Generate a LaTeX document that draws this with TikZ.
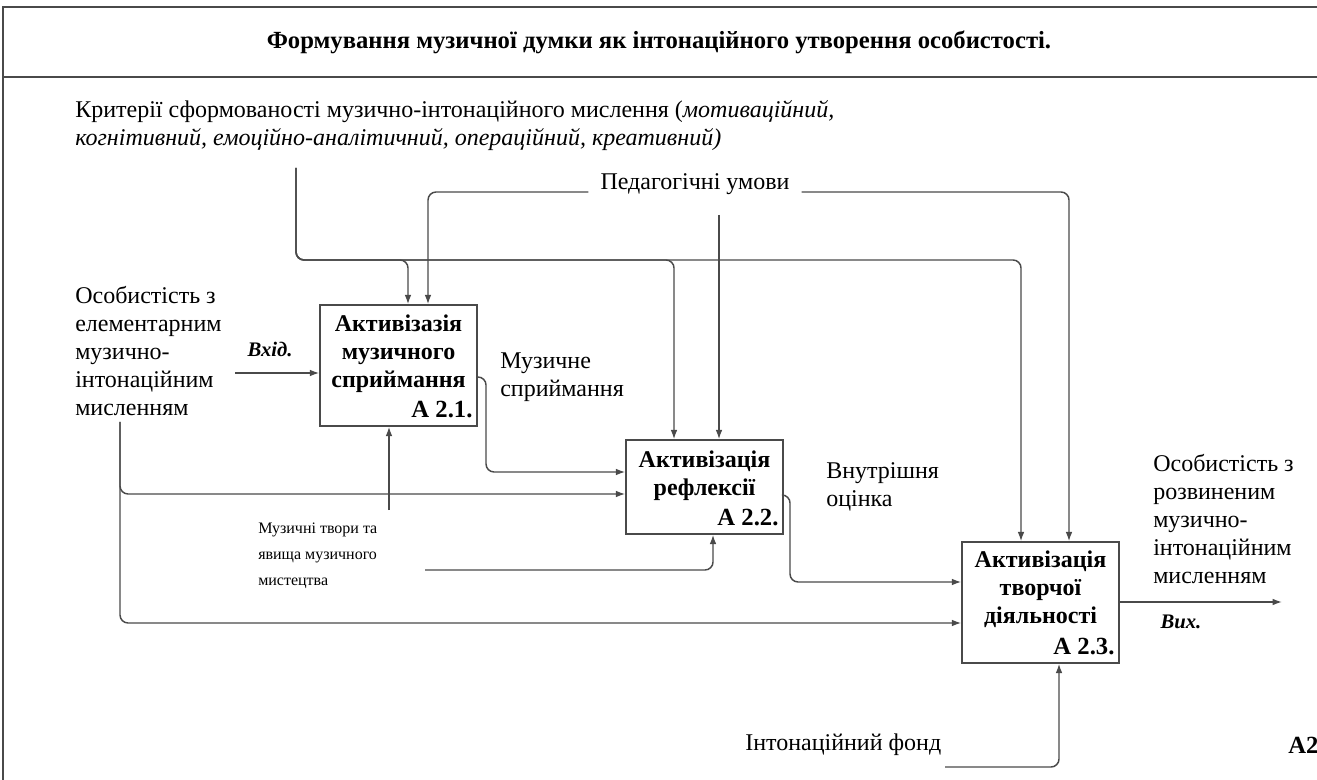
\documentclass[tikz,border=0pt]{standalone}
\usepackage{fontspec}
\setmainfont{Liberation Serif}
\usetikzlibrary{arrows.meta, positioning, calc}
\definecolor{idefline}{HTML}{4A4A4A}

\tikzset{
  fnbox/.style={draw=idefline, line width=1.1pt, inner sep=0pt},
  boxtxt/.style={font=\fontsize{18}{21}\selectfont\bfseries, align=center, inner sep=0pt},
  numtxt/.style={font=\fontsize{18.5}{21}\selectfont\bfseries, inner sep=0pt},
  lbl/.style={font=\fontsize{18}{21}\selectfont, align=left, inner sep=0pt},
  smalllbl/.style={font=\fontsize{12}{19.5}\selectfont, align=left, inner sep=0pt},
  tag/.style={font=\fontsize{15.5}{18}\selectfont\bfseries\itshape, inner sep=0pt},
  conn/.style={draw=idefline, line width=1.1pt, rounded corners=6pt},
  arr/.style={conn, -{Latex[length=7pt,width=5pt]}},
}

\begin{document}
\begin{tikzpicture}[x=0.75pt, y=-0.75pt]
  \useasboundingbox (0,0) rectangle (1317,780);
  % frame and title
  \draw[idefline, line width=1.1pt] (3,780) -- (3,7) -- (1317,7);
  \draw[idefline, line width=1.1pt] (3,77) -- (1317,77);
  \node[font=\fontsize{18.5}{21}\selectfont\bfseries, inner sep=0pt] (title) at (659,42)
    {Формування музичної думки як інтонаційного утворення особистості.};

  % function blocks
  \node[fnbox, minimum width=157*0.75pt, minimum height=121*0.75pt] (a21) at (398.5,365.5) {};
  \node[fnbox, minimum width=157*0.75pt, minimum height=94*0.75pt] (a22) at (704.5,487) {};
  \node[fnbox, minimum width=157*0.75pt, minimum height=121*0.75pt] (a23) at (1040.5,602.5) {};
  \node[boxtxt, anchor=north] (t21) at (398.5,315) {Активізазія\\музичного\\сприймання};
  \node[boxtxt, anchor=north] (t22) at (704.5,451) {Активізація\\рефлексії};
  \node[boxtxt, anchor=north] (t23) at (1040.5,551) {Активізація\\творчої\\діяльності};
  \node[numtxt, anchor=south east] (n21) at ($(a21.south east)+(-5,-9)$) {А 2.1.};
  \node[numtxt, anchor=south east] (n22) at ($(a22.south east)+(-5,-9)$) {А 2.2.};
  \node[numtxt, anchor=south east] (n23) at ($(a23.south east)+(-5,-9)$) {А 2.3.};

  % labels
  \node[lbl, anchor=north west] (crit) at (75,100)
    {Критерії сформованості музично-інтонаційного мислення (\textit{мотиваційний,}\\
     \textit{когнітивний, емоційно-аналітичний, операційний, креативний)}};
  \node[lbl, inner xsep=9pt] (ped) at (695,184) {Педагогічні умови};
  \node[lbl, anchor=north west] (inp) at (75,286)
    {Особистість з\\елементарним\\музично-\\інтонаційним\\мисленням};
  \node[tag] (vkhid) at (270,349) {Вхід.};
  \node[lbl, anchor=north west] (musp) at (500,353) {Музичне\\сприймання};
  \node[lbl, anchor=north west] (vnutr) at (826,462) {Внутрішня\\оцінка};
  \node[smalllbl, anchor=north west] (mus) at (258,523) {Музичні твори та\\явища музичного\\мистецтва};
  \node[lbl, anchor=north west] (outp) at (1153,454)
    {Особистість з\\розвиненим\\музично-\\інтонаційним\\мисленням};
  \node[tag] (vykh) at (1181,622) {Вих.};
  \node[lbl, anchor=west] (intf) at (745,745) {Інтонаційний фонд};
  \node[numtxt, anchor=west] (a2) at (1288,745) {А2};

  % controls
  \coordinate (critdn) at (296,168);
  \coordinate (k1) at (408,260);
  \coordinate (k2) at (674,260);
  \coordinate (k3) at (1021,260);
  \draw[arr] (critdn) |- (k1) -- (k1 |- a21.north);
  \draw[arr] (critdn) |- (k2) -- (k2 |- a22.north);
  \draw[arr] (critdn) |- (k3) -- (k3 |- a23.north);
  \coordinate (u1) at (428,192);
  \coordinate (u2) at (719,215);
  \coordinate (u3) at (1069,192);
  \draw[arr] (ped.west |- u1) -- (u1) -- (u1 |- a21.north);
  \draw[arr] (u2) -- (u2 |- a22.north);
  \draw[arr] (ped.east |- u3) -- (u3) -- (u3 |- a23.north);

  % inputs
  \coordinate (vin) at (235,373);
  \draw[arr] (vin) -- (vin -| a21.west);
  \coordinate (inb) at (120,422);
  \coordinate (y22a) at (600,494);
  \coordinate (y23b) at (900,623);
  \draw[arr] (inb) |- (y22a -| a22.west);
  \draw[arr] (inb) |- (y23b -| a23.west);

  % outputs between blocks
  \coordinate (o1) at (486,377);
  \coordinate (y22b) at (600,472);
  \draw[arr] (o1 -| a21.east) -- (o1) |- (y22b -| a22.west);
  \coordinate (o2) at (790,495);
  \coordinate (y23a) at (900,582);
  \draw[arr] (o2 -| a22.east) -- (o2) |- (y23a -| a23.west);
  \coordinate (outend) at (1282,602);
  \draw[arr] (outend -| a23.east) -- (outend);

  % mechanisms
  \coordinate (m1) at (389,510);
  \draw[arr] (m1) -- (m1 |- a21.south);
  \coordinate (m2) at (425,570);
  \coordinate (m3) at (713,570);
  \draw[arr] (m2) -- (m3) -- (m3 |- a22.south);
  \coordinate (m4) at (945,767);
  \coordinate (m5) at (1059,767);
  \draw[arr] (m4) -- (m5) -- (m5 |- a23.south);
\end{tikzpicture}
\end{document}
